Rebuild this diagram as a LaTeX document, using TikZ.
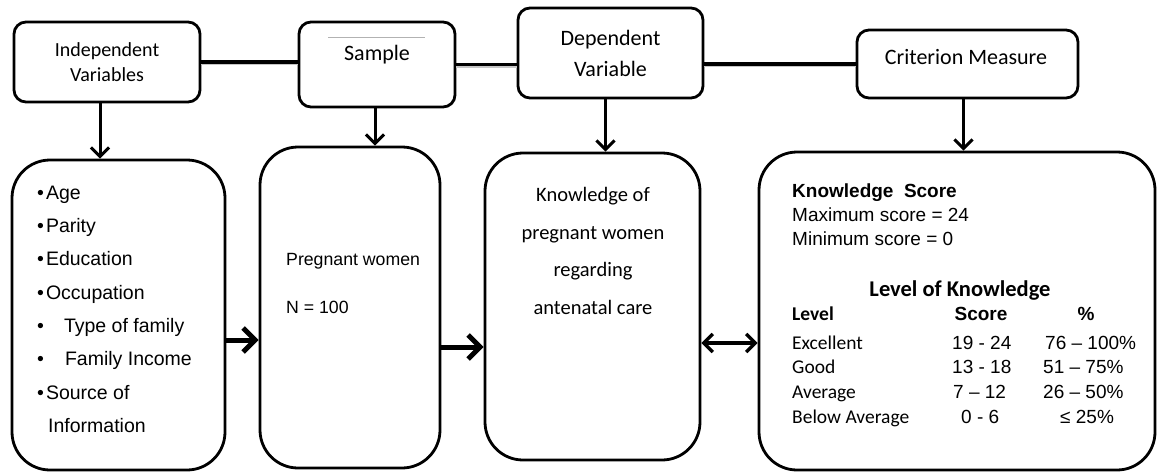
\documentclass[tikz,border=0pt]{standalone}
\usepackage{fontspec}
\setmainfont{Liberation Sans}
\newfontfamily\calibri{Carlito}
\usetikzlibrary{arrows.meta}

\begin{document}
\begin{tikzpicture}[x=1pt, y=-1pt,
  box/.style = {draw, line width=2.8pt, rounded corners=12pt, inner sep=0pt},
  tall/.style = {draw, line width=2.8pt, rounded corners=38pt, inner sep=0pt},
  cal/.style = {font=\calibri\fontsize{22}{25}\selectfont, align=center},
  ari/.style = {font=\fontsize{19.5}{24}\selectfont, inner sep=0pt, anchor=base west},
  calw/.style = {font=\calibri\fontsize{19.5}{24}\selectfont, inner sep=0pt, anchor=base west},
  link/.style = {line width=3.8pt, preaction={draw=gray!45, line width=3.8pt, transform canvas={yshift=-1.5pt}}},
  down/.style = {line width=3pt, -{Straight Barb[length=9pt,width=18pt,line width=3pt]}},
  push/.style = {line width=5pt, -{Straight Barb[length=12pt,width=24pt,line width=5pt]}},
  both/.style = {line width=3.4pt, {Straight Barb[length=9pt,width=18pt,line width=3.4pt]}-{Straight Barb[length=9pt,width=18pt,line width=3.4pt]}}]
\useasboundingbox (0,0) rectangle (1158,472);

% top row
\node[box, cal, font=\calibri\fontsize{20}{25}\selectfont, minimum width=186pt, minimum height=80pt] (iv) at (107,62) {Independent\\Variables};
\node[box, minimum width=156pt, minimum height=85pt] (smp) at (377,64.5) {};
\node[cal] (smpt) at (377,55) {Sample};
\node[box, cal, minimum width=185pt, minimum height=90pt] (dv) at (610.5,53) {Dependent\\[6pt]Variable};
\node[box, minimum width=221pt, minimum height=68pt] (cm) at (967.5,64) {};
\node[cal] (cmt) at (966,57) {Criterion Measure};
\draw[gray!60, line width=0.8pt] (328,37) -- (425,37);

\draw[link] (iv.east) -- (iv.east -| smp.west);
\draw[link] (smp.east) -- (smp.east -| dv.west);
\draw[link] (cm.west -| dv.east) -- (cm.west);

% bottom row
\node[tall, minimum width=213pt, minimum height=310pt] (list) at (118.5,315) {};
\node[tall, minimum width=180pt, minimum height=321pt] (preg) at (350,307.5) {};
\node[tall, minimum width=215pt, minimum height=307pt] (know) at (592.5,306.5) {};
\node[tall, minimum width=396pt, minimum height=318pt] (score) at (957,311) {};

\draw[down] ([xshift=-7pt]iv.south) -- ([xshift=-7pt]iv.south |- list.north);
\draw[down] ([xshift=-2pt]smp.south) -- ([xshift=-2pt]smp.south |- preg.north);
\draw[down] ([xshift=-5pt]dv.south) -- ([xshift=-5pt]dv.south |- know.north);
\draw[down] ([xshift=-4pt]cm.south) -- ([xshift=-4pt]cm.south |- score.north);

\draw[push] ([yshift=-25pt]list.east) -- ([yshift=-25pt]list.east -| preg.west);
\draw[push] ([yshift=-39.5pt]preg.east) -- ([yshift=-39.5pt]preg.east -| know.west);
\draw[both] ([yshift=-36.5pt]know.east) -- ([yshift=-36.5pt]know.east -| score.west);

% independent variables
\node[ari] (v1) at (37,199) {\textbullet\hspace{2pt}Age};
\node[ari] (v2) at (37,232) {\textbullet\hspace{2pt}Parity};
\node[ari] (v3) at (37,265) {\textbullet\hspace{2pt}Education};
\node[ari] (v4) at (37,299) {\textbullet\hspace{2pt}Occupation};
\node[ari] (v5) at (37,332) {\textbullet\hspace{20pt}Type of family};
\node[ari] (v6) at (37,365) {\textbullet\hspace{21pt}Family Income};
\node[ari] (v7) at (37,399) {\textbullet\hspace{2pt}Source of};
\node[ari] (v8) at (48,432) {Information};

% sample
\node[ari, font=\fontsize{17.7}{20}\selectfont] (s1) at (286,265) {Pregnant women};
\node[ari, font=\fontsize{17.7}{20}\selectfont] (s2) at (286,313) {N = 100};

% dependent variable
\node[cal, font=\calibri\fontsize{20.5}{24}\selectfont, anchor=base] (k1) at (593,201) {Knowledge of};
\node[cal, font=\calibri\fontsize{20.5}{24}\selectfont, anchor=base] (k2) at (593,239) {pregnant women};
\node[cal, font=\calibri\fontsize{20.5}{24}\selectfont, anchor=base] (k3) at (593,276) {regarding};
\node[cal, font=\calibri\fontsize{20.5}{24}\selectfont, anchor=base] (k4) at (593,314) {antenatal care};

% criterion measure
\node[ari, font=\bfseries\fontsize{19}{24}\selectfont] (c1) at (792,197) {Knowledge\hspace{0.55em}Score};
\node[ari, font=\fontsize{19}{24}\selectfont] (c2) at (792,221) {Maximum score = 24};
\node[ari, font=\fontsize{19}{24}\selectfont] (c3) at (792,245) {Minimum score = 0};
\node[cal, font=\calibri\bfseries\fontsize{22.5}{24}\selectfont, anchor=base] (c4) at (960,296) {Level of Knowledge};
\node[calw, font=\calibri\bfseries\fontsize{19.5}{24}\selectfont] (h1) at (792,320) {Level};
\node[ari, font=\bfseries\fontsize{19}{24}\selectfont, anchor=base] (h2) at (981,320) {Score};
\node[ari, font=\bfseries\fontsize{19}{24}\selectfont, anchor=base] (h3) at (1086,320) {\%};

\node[calw] (l1) at (792,349) {Excellent};
\node[calw] (l2) at (792,373) {Good};
\node[calw] (l3) at (792,398) {Average};
\node[calw] (l4) at (792,423) {Below Average};

\node[ari, font=\fontsize{19}{24}\selectfont] (n1) at (952,349) {19 - 24};
\node[ari, font=\fontsize{19}{24}\selectfont] (n2) at (952,373) {13 - 18};
\node[ari, font=\fontsize{19}{24}\selectfont] (n3) at (953,398) {7 – 12};
\node[ari, font=\fontsize{19}{24}\selectfont] (n4) at (961,423) {0 - 6};

\node[ari, font=\fontsize{19}{24}\selectfont] (p1) at (1045,349) {76 – 100\%};
\node[ari, font=\fontsize{19}{24}\selectfont] (p2) at (1043,373) {51 – 75\%};
\node[ari, font=\fontsize{19}{24}\selectfont] (p3) at (1043,398) {26 – 50\%};
\node[ari, font=\fontsize{19}{24}\selectfont] (p4) at (1060,423) {≤ 25\%};
\end{tikzpicture}
\end{document}
